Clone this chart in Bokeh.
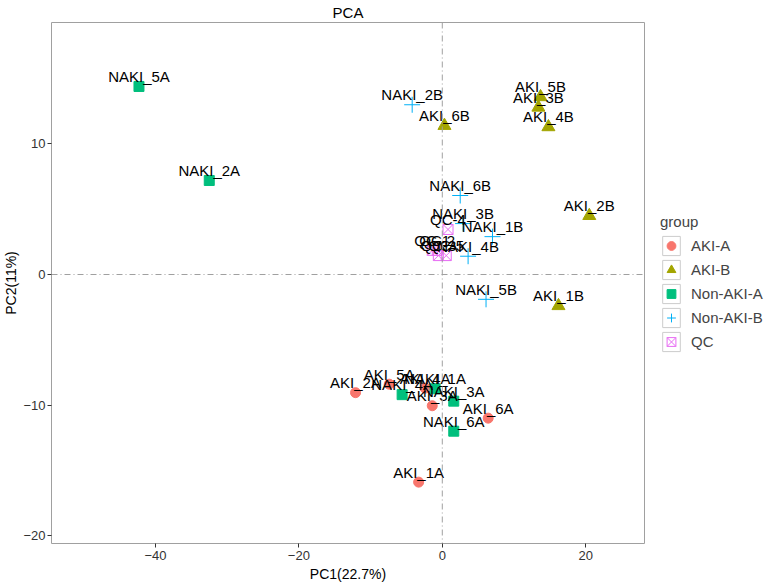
from bokeh.plotting import figure
from bokeh.models import ColumnDataSource, Span, Legend, LegendItem, FixedTicker, Range1d
from bokeh.core.properties import value
from bokeh.embed import file_html
from bokeh.resources import INLINE

# ---- data ----
aki_a_names = ["AKI_1A", "AKI_2A", "AKI_3A", "AKI_4A", "AKI_5A", "AKI_6A"]
aki_a_pc1 = [-3.3, -12.1, -1.4, -2.4, -7.4, 6.4]
aki_a_pc2 = [-15.9, -9.05, -10.05, -8.7, -8.4, -11.0]

aki_b_names = ["AKI_1B", "AKI_2B", "AKI_3B", "AKI_4B", "AKI_5B", "AKI_6B"]
aki_b_pc1 = [16.2, 20.5, 13.4, 14.8, 13.7, 0.3]
aki_b_pc2 = [-2.4, 4.5, 12.8, 11.3, 13.6, 11.4]

naki_a_names = ["NAKI_1A", "NAKI_2A", "NAKI_3A", "NAKI_4A", "NAKI_5A", "NAKI_6A"]
naki_a_pc1 = [-1.0, -32.5, 1.6, -5.6, -42.3, 1.6]
naki_a_pc2 = [-8.75, 7.2, -9.7, -9.2, 14.4, -12.0]

naki_b_names = ["NAKI_1B", "NAKI_2B", "NAKI_3B", "NAKI_4B", "NAKI_5B", "NAKI_6B"]
naki_b_pc1 = [7.0, -4.2, 2.9, 3.6, 6.1, 2.5]
naki_b_pc2 = [2.9, 13.0, 3.9, 1.4, -1.9, 6.05]

qc_names = ["QC-1", "QC-2", "QC-3", "QC-4", "QC-5"]
qc_pc1 = [-1.4, -0.7, -0.55, 0.8, 0.55]
qc_pc2 = [1.85, 1.85, 1.45, 3.45, 1.45]

group_labels = ["AKI-A", "AKI-B", "Non-AKI-A", "Non-AKI-B", "QC"]
group_colors = ["#F8766D", "#A3A500", "#00BF7D", "#00B0F6", "#E76BF3"]

x_ticks = [-40, -20, 0, 20]
y_ticks = [-20, -10, 0, 10]

FONT = "Liberation Sans"
NAN = float("nan")

p = figure(frame_width=593, frame_height=521, output_backend="svg", toolbar_location=None,
           x_range=Range1d(-54.5, 28.2), y_range=Range1d(-20.6, 19.3),
           min_border_left=44, min_border_right=112, min_border_top=0,
           min_border_bottom=34, title="PCA")
p.title.align = "center"
p.title.text_font = FONT
p.title.text_font_size = "15px"
p.title.text_font_style = "normal"
p.title.text_color = "black"
p.title.standoff = 3
p.title.offset = 0

p.xgrid.visible = False
p.ygrid.visible = False
p.outline_line_color = "#A0A0A0"
p.outline_line_width = 1
p.background_fill_color = "white"

for ax in (p.xaxis[0], p.yaxis[0]):
    ax.axis_line_color = None
    ax.major_tick_in = 0
    ax.major_tick_out = 4
    ax.major_tick_line_color = "#333333"
    ax.minor_tick_line_color = None
    ax.major_label_text_font = FONT
    ax.major_label_text_font_size = "13px"
    ax.major_label_text_color = "#333333"
    ax.axis_label_text_font = FONT
    ax.axis_label_text_font_size = "14px"
    ax.axis_label_text_font_style = "normal"
    ax.axis_label_text_color = "black"
p.xaxis.ticker = FixedTicker(ticks=x_ticks)
p.yaxis.ticker = FixedTicker(ticks=y_ticks)
p.xaxis.axis_label = "PC1(22.7%)"
p.yaxis.axis_label = "PC2(11%)"
p.xaxis.major_label_standoff = 3
p.yaxis.major_label_standoff = 2
p.xaxis.axis_label_standoff = 3
p.yaxis.axis_label_standoff = 1

ref_color = "#A0A0A0"
p.add_layout(Span(location=0, dimension="height", line_color=ref_color,
                  line_dash="6 3 1 3", line_width=1))
p.add_layout(Span(location=0, dimension="width", line_color=ref_color,
                  line_dash="6 3 1 3", line_width=1))

sets = [
    (aki_a_names, aki_a_pc1, aki_a_pc2),
    (aki_b_names, aki_b_pc1, aki_b_pc2),
    (naki_a_names, naki_a_pc1, naki_a_pc2),
    (naki_b_names, naki_b_pc1, naki_b_pc2),
    (qc_names, qc_pc1, qc_pc2),
]
markers = ["circle", "triangle", "square", "cross", "square_x"]
sizes = [10, 13, 10, 16, 10]

# invisible key-box renderer used only to draw legend key backgrounds
key_box = p.quad(left=[NAN], right=[NAN], top=[NAN], bottom=[NAN],
                 fill_color="white", line_color="#CCCCCC", line_width=1)

items = []
for (names, xs, ys), lab, col, mk, sz in zip(sets, group_labels, group_colors, markers, sizes):
    src = ColumnDataSource(dict(x=xs, y=ys, name=names))
    if mk == "square_x":
        r = p.scatter("x", "y", source=src, marker=mk, size=sz, line_color=col,
                      fill_alpha=0, line_width=1)
    elif mk == "cross":
        r = p.scatter("x", "y", source=src, marker=mk, size=sz, line_color=col,
                      line_width=1)
    else:
        r = p.scatter("x", "y", source=src, marker=mk, size=sz, fill_color=col,
                      line_color=col)
    items.append(LegendItem(label=lab, renderers=[key_box, r]))

for (names, xs, ys) in sets:
    src = ColumnDataSource(dict(x=xs, y=ys, name=names))
    p.text("x", "y", text="name", source=src, text_align="center",
           text_baseline="middle", y_offset=-10, text_font=value(FONT),
           text_font_size="15px", text_color="black")

legend = Legend(items=items, location="center_left", title="group")
legend.title_text_font = FONT
legend.title_text_font_size = "15px"
legend.title_text_font_style = "normal"
legend.title_standoff = 4
legend.label_text_font = FONT
legend.label_text_font_size = "15px"
legend.glyph_width = 22
legend.glyph_height = 24
legend.spacing = 0
legend.padding = 4
legend.margin = 16
legend.label_standoff = 9
legend.border_line_color = None
legend.background_fill_color = "white"
p.add_layout(legend, "right")

open("out.html", "w").write(file_html(p, INLINE))
